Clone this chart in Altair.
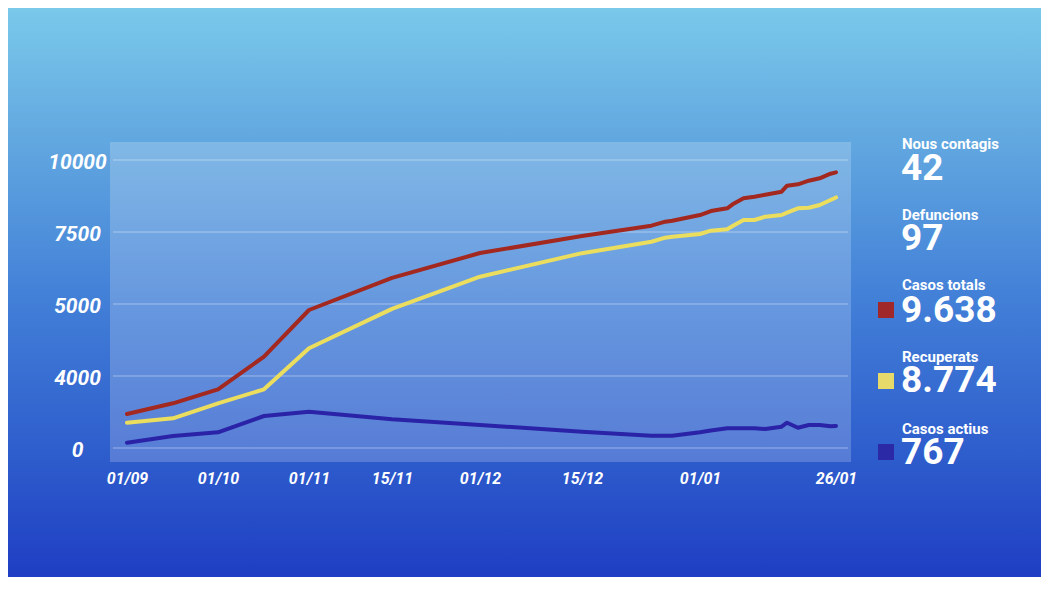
import altair as alt
import pandas as pd

# ---------------- data ----------------
dates = ["2020-09-01", "2020-09-15", "2020-10-01", "2020-10-15", "2020-11-01",
         "2020-11-15", "2020-12-01", "2020-12-15", "2020-12-25", "2020-12-27",
         "2020-12-28", "2021-01-01", "2021-01-03", "2021-01-06", "2021-01-07",
         "2021-01-09", "2021-01-11", "2021-01-13", "2021-01-16", "2021-01-17",
         "2021-01-19", "2021-01-21", "2021-01-23", "2021-01-25", "2021-01-26"]
casos_totals = [1181, 1552, 2038, 3170, 4792, 5905, 6770, 7360, 7719, 7858,
                7892, 8090, 8229, 8323, 8462, 8670, 8726, 8795, 8899, 9108,
                9156, 9281, 9365, 9524, 9570]
recuperats = [878, 1031, 1552, 2038, 3462, 4830, 5948, 6765, 7163, 7302,
              7337, 7431, 7545, 7594, 7708, 7917, 7917, 8031, 8090, 8170,
              8323, 8344, 8437, 8611, 8700]
casos_actius = [184, 417, 545, 1111, 1260, 997, 799, 566, 427, 427,
                427, 545, 608, 684, 684, 684, 684, 660, 740, 878,
                705, 799, 799, 753, 767]

series_names = ["Casos totals", "Recuperats", "Casos actius"]
series_colors = ["#A3281F", "#EBDD5E", "#2A23A8"]

y_tick_values = [0, 2500, 5000, 7500, 10000]
y_tick_labels = ["0", "4000", "5000", "7500", "10000"]

x_tick_dates = ["2020-09-01", "2020-10-01", "2020-11-01", "2020-11-15",
                "2020-12-01", "2020-12-15", "2021-01-01", "2021-01-26"]
x_tick_labels = ["01/09", "01/10", "01/11", "15/11", "01/12", "15/12", "01/01", "26/01"]

stat_names = ["Nous contagis", "Defuncions", "Casos totals", "Recuperats", "Casos actius"]
stat_values = ["42", "97", "9.638", "8.774", "767"]
stat_square_colors = [None, None, "#A0282A", "#E6DA6A", "#2B29A6"]

# ---------------- layout (styling only) ----------------
W, H = 741, 320
ORX, ORY = 110, 142          # plot origin in the page
x_break_dates = ["2020-09-01", "2020-09-15", "2020-10-01", "2020-10-15", "2020-11-01",
                 "2020-11-15", "2020-12-01", "2020-12-15", "2021-01-01", "2021-01-26"]
x_break_px = [17, 63, 108, 154, 199, 282, 370, 472, 590, 726]
name_baselines = [149, 219.5, 289.5, 361.5, 433.5]
value_baselines = [180, 250, 321.5, 391.5, 463.5]
square_tops = [None, None, 302, 373, 444]

START = pd.Timestamp("2020-09-01")


def day_no(d):
    # days elapsed since 1 September 2020
    return int((pd.Timestamp(d) - START).days)


df = pd.DataFrame({
    "day": [day_no(d) for d in dates],
    "Casos totals": casos_totals,
    "Recuperats": recuperats,
    "Casos actius": casos_actius,
})

x_scale = alt.Scale(type="linear", domain=[day_no(d) for d in x_break_dates],
                    range=x_break_px, nice=False, zero=False)
y_scale = alt.Scale(domain=[-486.1, 10625], nice=False, zero=False)


def ternary(vals, labels):
    expr = "''"
    for v, l in reversed(list(zip(vals, labels))):
        expr = f"datum.value == {v} ? '{l}' : ({expr})"
    return expr


y_axis = alt.Axis(values=y_tick_values, labelExpr=ternary(y_tick_values, y_tick_labels),
                  grid=False, ticks=False, tickSize=0, domain=False, labelPadding=33,
                  labelAlign="center", labelBaseline="middle", labelOffset=2,
                  labelFont="Roboto", labelFontStyle="italic", labelFontWeight="bold",
                  labelFontSize=21, labelColor="white", title=None, zindex=1)
x_tick_days = [day_no(d) for d in x_tick_dates]
x_axis = alt.Axis(values=x_tick_days, labelExpr=ternary(x_tick_days, x_tick_labels),
                  grid=False, ticks=False, tickSize=0, domain=False, labelPadding=8,
                  labelBaseline="top", labelFlush=False, labelOverlap=False,
                  labelFont="Roboto", labelFontStyle="italic", labelFontWeight="bold",
                  labelFontSize=16, labelColor="white", title=None, zindex=1)

one = alt.Data(values=[{"k": 1}])

bg = alt.Chart(one).mark_rect(fill={
    "gradient": "linear", "x1": 0, "y1": 0, "x2": 0, "y2": 1,
    "stops": [
        {"offset": 0.0, "color": "#79C9EB"},
        {"offset": 0.23, "color": "#62A8E0"},
        {"offset": 0.5, "color": "#4381D8"},
        {"offset": 0.77, "color": "#2F5FCD"},
        {"offset": 1.0, "color": "#1F3EC3"},
    ]}).encode(
    x=alt.value(8 - ORX), x2=alt.value(1041 - ORX),
    y=alt.value(8 - ORY), y2=alt.value(577 - ORY))

panel = alt.Chart(one).mark_rect(fill="white", fillOpacity=0.2).encode(
    x=alt.value(0), x2=alt.value(W), y=alt.value(0), y2=alt.value(H))

grid = alt.Chart(pd.DataFrame({"value": y_tick_values})).mark_rule(
    color="white", strokeOpacity=0.4, strokeWidth=1).encode(
    x=alt.value(3), x2=alt.value(W - 3),
    y=alt.Y("value:Q", scale=y_scale, axis=y_axis))

lines = alt.Chart(df).transform_fold(
    series_names, as_=["serie", "value"]
).mark_line(strokeWidth=4, strokeJoin="round", strokeCap="round").encode(
    x=alt.X("day:Q", scale=x_scale, axis=x_axis),
    y=alt.Y("value:Q", scale=y_scale, axis=y_axis),
    color=alt.Color("serie:N", scale=alt.Scale(domain=series_names, range=series_colors),
                    legend=None),
    detail="serie:N",
)

layers = [bg, panel, grid, lines]

for i, (name, val) in enumerate(zip(stat_names, stat_values)):
    layers.append(alt.Chart(one).mark_text(
        text=name, align="left", baseline="alphabetic", font="Roboto",
        fontWeight="bold", fontSize=15, color="white").encode(
        x=alt.value(902 - ORX), y=alt.value(name_baselines[i] - ORY)))
    layers.append(alt.Chart(one).mark_text(
        text=val, align="left", baseline="alphabetic", font="Roboto",
        fontWeight="bold", fontSize=37, color="white").encode(
        x=alt.value(901 - ORX), y=alt.value(value_baselines[i] - ORY)))
    if stat_square_colors[i]:
        layers.append(alt.Chart(one).mark_rect(fill=stat_square_colors[i]).encode(
            x=alt.value(878 - ORX), x2=alt.value(894 - ORX),
            y=alt.value(square_tops[i] - ORY), y2=alt.value(square_tops[i] + 16 - ORY)))

chart = alt.layer(*layers).properties(
    width=W, height=H, padding=0, background="transparent"
).configure_view(stroke=None)

chart.save("out.html", embed_options={"renderer": "svg", "actions": False})
